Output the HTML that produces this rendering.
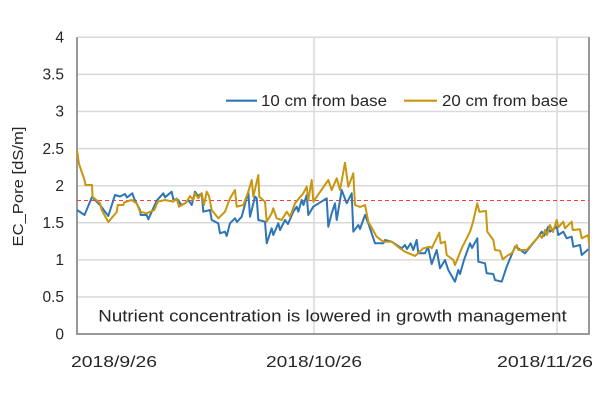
<!DOCTYPE html>
<html><head><meta charset="utf-8"><style>
html,body{margin:0;padding:0;background:#fff;}
svg{display:block;}
text{font-family:"Liberation Sans",sans-serif;fill:#262626;}
</style></head><body>
<svg width="600" height="400" viewBox="0 0 600 400" xmlns="http://www.w3.org/2000/svg">
<rect width="600" height="400" fill="#fff"/>
<g stroke="#d9d9d9" stroke-width="1.5">
<line x1="77" y1="37.3" x2="589" y2="37.3"/>
<line x1="77" y1="74.4" x2="589" y2="74.4"/>
<line x1="77" y1="111.5" x2="589" y2="111.5"/>
<line x1="77" y1="148.6" x2="589" y2="148.6"/>
<line x1="77" y1="185.7" x2="589" y2="185.7"/>
<line x1="77" y1="222.8" x2="589" y2="222.8"/>
<line x1="77" y1="259.9" x2="589" y2="259.9"/>
<line x1="77" y1="297" x2="589" y2="297"/>
<line x1="314" y1="37.3" x2="314" y2="334"/>
<line x1="557" y1="37.3" x2="557" y2="334"/>
</g>
<g stroke="#8c8c8c" stroke-width="1.8" fill="none">
<line x1="77" y1="37.3" x2="77" y2="334.8"/>
<line x1="76.5" y1="334" x2="589.5" y2="334"/>
<line x1="589" y1="37.3" x2="589" y2="334.8"/>
</g>
<line x1="77" y1="200.5" x2="589" y2="200.5" stroke="#ff3b3b" stroke-width="1" stroke-dasharray="4,3"/>
<polyline fill="none" stroke="#2e75b6" stroke-width="2" stroke-linejoin="round" points="77,210 84.5,215 92,197 100,205 108.3,216 115,195 120,196.5 125,194 127,197.5 132.3,193.3 134.3,199 140,210 140.7,215 146.7,215 148.3,219.3 156.7,200.7 163.3,193.3 165,197.3 171.7,191.7 173.3,199.3 178.3,200 181,205 185,203.3 188.3,200 191.7,205 195,191.7 198,196 201.7,193.3 203.3,211.7 210,210 211.7,220 218.3,223.3 220,233.3 225,231.7 226.7,236 230,223.3 235,218.3 237,222 241.7,216.7 248.3,191.7 250,216.7 255,196.7 256.7,198 258.3,220 265,221.7 266.7,243.3 271.7,228.3 273.3,235 278.3,223.3 280,230 285,220 288,224 293.3,211.7 296.7,206.7 298.3,211.7 301.7,200 303.5,205 306.7,195 308.3,215 313.3,206.7 326.7,198.3 328.3,226.7 331.7,213.3 335,203.3 336.7,220 341.7,190 346.7,203.3 351.7,193.3 353.3,231.7 358.3,225 360,229 365,215 368.3,223.3 375,243.3 383.3,243.3 385,240 391.7,241.7 396.7,245 401.7,248.3 405,245 407,249 410.7,243.3 413.3,250 416.7,240 418.3,253.3 425,253.3 428,247 431.7,264 436.7,250 440,268.3 445,260 448.3,270 455,281.7 458.3,270 460,274 464,260 470,243.3 472,248 477.3,238.3 478.3,261.7 485,263.3 486.7,273.3 493.3,274 495,280 501.7,281.7 506.7,266.7 515,246.7 518.3,248.3 525,253.3 538.3,236.7 541.7,231.7 544,236 548.3,226.7 550,231.7 556.7,226.7 558.3,235 563.3,231.7 566.7,238.3 571.7,236.7 573.3,246.7 580,245 581.7,255 588.3,249.3"/>
<polyline fill="none" stroke="#c8960f" stroke-width="2" stroke-linejoin="round" points="77,150 79,164 84.5,180 85.5,185 92,185 92.5,196.7 100,203.3 101.7,210 108.3,222 116.7,212 117.7,205 123.3,205 124.3,202.3 131.7,200 136.7,203.3 140,211.7 146.7,213.3 154.3,210 157.7,201.7 165,200 173.3,201.7 176.7,198.3 179,206.7 185,203.3 186.7,201.7 190,196 193.3,200 195,193.3 198.3,198.3 201.7,193.3 204,205 206.7,191.7 209,196 211.7,210 218.3,218.3 225,211.7 230,198.3 235,190 236.7,206.7 243.3,205 248.3,191.7 251.7,180 253.3,196.7 258.3,175 259.3,196.7 265,201.7 266.7,221.7 271.7,213.3 273.3,208.3 276.7,218.3 281.7,220 286.7,211.7 290,216.7 295,203.3 303.3,193.3 306.7,186.7 308.3,200 311.7,180 313.3,201.7 328.3,180 331.7,190 336.7,178.3 340,190 345,162.7 348.3,186.7 353.3,173.3 355,205 360,207 365,205 368.3,221.7 376.7,236.7 383.3,241.7 391.7,241.7 400,248.3 405,251.7 415,256 423.3,248.3 430,246.7 431.7,248.3 439.3,232.7 440.7,243.3 445,241.7 446.7,255 453.3,260 455,265 461.7,248.3 470,231.7 472.7,223.3 477.3,203.3 479.3,211.7 486,211 487.3,231.7 493.3,240 495,250 500,250.7 502.7,259.3 508.3,255 511.7,253.3 516.7,245 518.3,250 526.7,250 540,235 542,238 545,230 547,235 550,225 553,232 556.7,220 558.3,227.3 563.3,221.7 565,228.3 571.7,221.7 572.7,230 580,229.3 581.7,238.3 588.3,235 589,243.3"/>
<g font-size="15.5" text-anchor="end">
<text x="64" y="42.5">4</text>
<text x="64" y="79.6">3.5</text>
<text x="64" y="116.7">3</text>
<text x="64" y="153.8">2.5</text>
<text x="64" y="190.9">2</text>
<text x="64" y="228">1.5</text>
<text x="64" y="265.1">1</text>
<text x="64" y="302.2">0.5</text>
<text x="64" y="339.3">0</text>
</g>
<g font-size="15.5">
<text x="71" y="367" textLength="86" lengthAdjust="spacingAndGlyphs">2018/9/26</text>
<text x="266" y="367" textLength="96" lengthAdjust="spacingAndGlyphs">2018/10/26</text>
<text x="497" y="367" textLength="96" lengthAdjust="spacingAndGlyphs">2018/11/26</text>
</g>
<text transform="translate(23,186.5) rotate(-90)" font-size="14.5" text-anchor="middle" textLength="120" lengthAdjust="spacingAndGlyphs">EC_Pore [dS/m]</text>
<line x1="226" y1="100.7" x2="257" y2="100.7" stroke="#2e75b6" stroke-width="2.2"/>
<text x="261" y="106" font-size="15.5" textLength="126" lengthAdjust="spacingAndGlyphs">10 cm from base</text>
<line x1="404" y1="100.7" x2="437" y2="100.7" stroke="#c8960f" stroke-width="2.2"/>
<text x="442" y="106" font-size="15.5" textLength="126" lengthAdjust="spacingAndGlyphs">20 cm from base</text>
<text x="98.3" y="321.5" font-size="17" textLength="468.4" lengthAdjust="spacingAndGlyphs">Nutrient concentration is lowered in growth management</text>
</svg>
</body></html>
